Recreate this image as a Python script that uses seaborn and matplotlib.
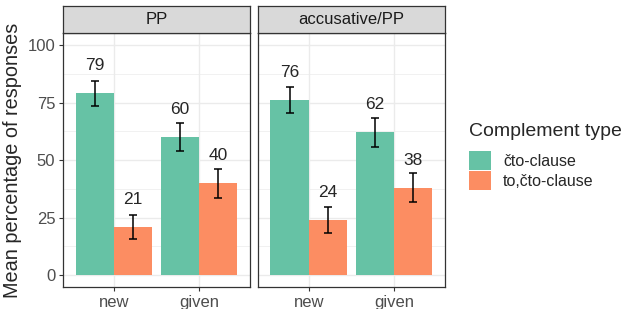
import matplotlib
matplotlib.use("Agg")
import matplotlib.pyplot as plt
import seaborn as sns
import pandas as pd
from matplotlib.patches import Patch

# values
facets = ["PP", "accusative/PP"]
info = ["new", "given"]
types = ["čto-clause", "to,čto-clause"]
cto_mean = [79, 60, 76, 62]        # PP new, PP given, acc new, acc given
tocto_mean = [21, 40, 24, 38]
cto_err = [5.3, 6.2, 5.6, 6.2]
tocto_err = [5.2, 6.3, 5.6, 6.2]
colors = ["#66c2a5", "#fc8d62"]

rows = []
for i, (f, s) in enumerate([(f, s) for f in facets for s in info]):
    rows.append(dict(facet=f, info=s, type=types[0], mean=cto_mean[i], err=cto_err[i]))
    rows.append(dict(facet=f, info=s, type=types[1], mean=tocto_mean[i], err=tocto_err[i]))
df = pd.DataFrame(rows)

sns.set_style("white")
plt.rcParams['font.family'] = ['Liberation Sans', 'DejaVu Sans']

fig = plt.figure(figsize=(6.24, 3.09), dpi=100)
axes = [fig.add_axes([0.101, 0.071, 0.300, 0.822]),
        fig.add_axes([0.413, 0.071, 0.300, 0.822])]

for ax, f in zip(axes, facets):
    sub = df[df.facet == f]
    sns.barplot(data=sub, x="info", y="mean", hue="type", order=info,
                hue_order=types, palette=colors, width=0.9, saturation=1,
                errorbar=None, ax=ax, legend=False, linewidth=0, zorder=2)
    # error bars and labels at bar centres
    for cont, t in zip(ax.containers, types):
        d = sub[sub.type == t].set_index("info").loc[info]
        xs = [p.get_x() + p.get_width() / 2 for p in cont.patches]
        ax.errorbar(xs, d["mean"], yerr=d["err"], fmt="none", ecolor="black",
                    elinewidth=1.1, capsize=3, capthick=1.1, zorder=3)
        for x, m in zip(xs, d["mean"]):
            ax.text(x, m + 12, f"{m}", ha="center", va="center", fontsize=12.5)
    ax.set_xlim(-0.6, 1.6)
    ax.set_ylim(-5.25, 105.25)
    ax.set_yticks([0, 25, 50, 75, 100])
    ax.set_yticks([12.5, 37.5, 62.5, 87.5], minor=True)
    ax.grid(True, which="major", color="#ebebeb", lw=1.0, zorder=0)
    ax.grid(True, which="minor", axis="y", color="#ebebeb", lw=0.5, zorder=0)
    ax.set_axisbelow(True)
    for sp in ax.spines.values():
        sp.set_color("#333333")
        sp.set_linewidth(0.9)
    ax.tick_params(axis="both", which="major", length=3, color="#333333",
                   labelcolor="#4d4d4d", labelsize=12, width=0.8, pad=2.5,
                   left=True, bottom=True)
    ax.tick_params(axis="both", which="minor", length=0)
    ax.set_xlabel("")
    ax.set_ylabel("")
    # strip header
    strip = ax.inset_axes([0, 1.0, 1, 0.106])
    strip.set_facecolor("#d9d9d9")
    strip.set_xticks([])
    strip.set_yticks([])
    for sp in strip.spines.values():
        sp.set_color("#333333")
        sp.set_linewidth(0.9)
    strip.text(0.5, 0.5, f, ha="center", va="center", fontsize=12, color="#1a1a1a")

axes[1].tick_params(axis="y", labelleft=False, left=False)
axes[0].set_ylabel("Mean percentage of responses", fontsize=14.3, labelpad=4)

# legend: title as its own text, keys below
fig.text(469 / 624, 1 - 132 / 309, "Complement type", ha="left", va="center",
         fontsize=14)
handles = [Patch(facecolor=c, edgecolor="none") for c in colors]
fig.legend(handles, types, loc="upper left",
           bbox_to_anchor=(469 / 624, 1 - 151 / 309), frameon=False, fontsize=11.5,
           handlelength=1.38, handleheight=1.45,
           labelspacing=0.06, handletextpad=0.75,
           borderpad=0, borderaxespad=0)

fig.savefig("out.png", dpi=100)
